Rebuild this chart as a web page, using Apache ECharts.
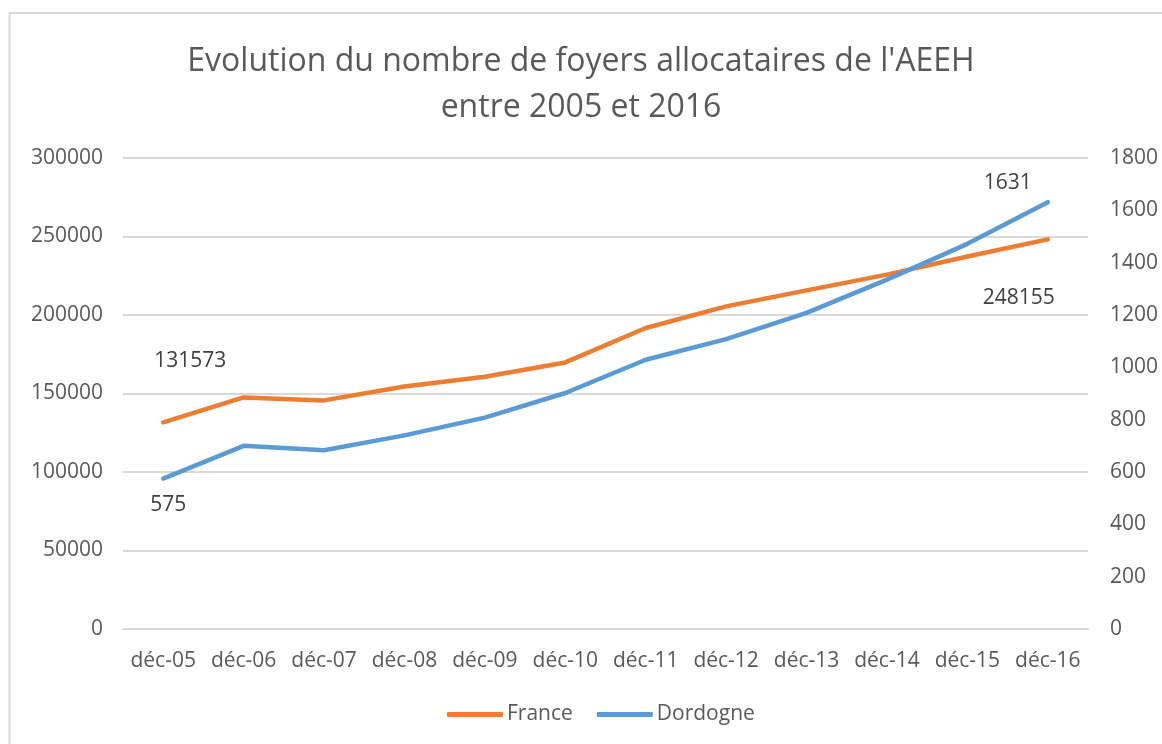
<!DOCTYPE html>
<html lang="fr">
<head>
<meta charset="UTF-8">
<title>AEEH 2005-2016</title>
<script src="https://cdn.jsdelivr.net/npm/echarts@6/dist/echarts.min.js"></script>
<style>
  html, body { margin: 0; padding: 0; background: #fff; }
  #main { width: 1162px; height: 744px; }
</style>
</head>
<body>
<div id="main"></div>
<script type="text/javascript">
    // données
    var mois = ['déc-05', 'déc-06', 'déc-07', 'déc-08', 'déc-09', 'déc-10',
                'déc-11', 'déc-12', 'déc-13', 'déc-14', 'déc-15', 'déc-16'];
    var france = [131573, 147500, 145600, 154500, 160700, 169800,
                  191700, 205500, 215700, 225700, 237300, 248155];
    var dordogne = [575, 700, 683, 740, 808, 902,
                    1029, 1108, 1208, 1335, 1472, 1631];

    var gris = '#595959';
    var police = 'Open Sans';

    var chart = echarts.init(document.getElementById('main'));

    // étiquettes seulement sur le premier et le dernier point
    function avecEtiquettes(values, first, last) {
        return values.map(function (v, i) {
            var item = { value: v };
            if (i === 0) item.label = { show: true, offset: first };
            else if (i === values.length - 1) item.label = { show: true, offset: last };
            return item;
        });
    }

    var option = {
        backgroundColor: '#fff',
        textStyle: { fontFamily: police },
        title: {
            text: "Evolution du nombre de foyers allocataires de l'AEEH\nentre 2005 et 2016",
            left: 'center',
            top: 34,
            textStyle: {
                fontFamily: police,
                fontSize: 32,
                fontWeight: 'normal',
                color: gris,
                lineHeight: 46
            }
        },
        graphic: [{
            type: 'rect',
            shape: { x: 9.5, y: 13, width: 1170, height: 760 },
            style: { fill: 'none', stroke: '#d9d9d9', lineWidth: 2 },
            silent: true
        }],
        legend: {
            bottom: 14,
            left: 442,
            icon: 'roundRect',
            itemWidth: 56,
            itemHeight: 5,
            itemGap: 24,
            textStyle: { fontFamily: police, fontSize: 21, color: gris, padding: [0, 0, 0, -1] },
            data: ['France', 'Dordogne']
        },
        grid: { left: 123, right: 74, top: 158, bottom: 115, containLabel: false },
        xAxis: {
            type: 'category',
            data: mois,
            boundaryGap: true,
            axisLine: { show: true, lineStyle: { color: '#d9d9d9', width: 2 } },
            axisTick: { show: false },
            axisLabel: { color: gris, fontSize: 21, margin: 22, interval: 0, fontFamily: police }
        },
        yAxis: [{
            type: 'value',
            min: 0,
            max: 300000,
            interval: 50000,
            axisLine: { show: false },
            axisTick: { show: false },
            axisLabel: { color: gris, fontSize: 21, margin: 20, fontFamily: police,
                         formatter: function (v) { return String(v); } },
            splitLine: { lineStyle: { color: '#d9d9d9', width: 2 } }
        }, {
            type: 'value',
            min: 0,
            max: 1800,
            interval: 200,
            position: 'right',
            axisLine: { show: false },
            axisTick: { show: false },
            axisLabel: { color: gris, fontSize: 21, margin: 22, fontFamily: police,
                         formatter: function (v) { return String(v); } },
            splitLine: { show: false }
        }],
        series: [{
            name: 'France',
            type: 'line',
            yAxisIndex: 0,
            data: avecEtiquettes(france, [27, -61], [-29, 59]),
            symbol: 'circle',
            symbolSize: 1,
            showSymbol: true,
            lineStyle: { color: '#ed7d31', width: 4.5, cap: 'round', join: 'round' },
            itemStyle: { color: '#ed7d31' },
            label: { show: false, position: 'inside', color: '#404040', fontSize: 21, fontFamily: police },
            emphasis: { disabled: true },
            animation: false
        }, {
            name: 'Dordogne',
            type: 'line',
            yAxisIndex: 1,
            data: avecEtiquettes(dordogne, [5, 26], [-40, -19]),
            symbol: 'circle',
            symbolSize: 1,
            showSymbol: true,
            lineStyle: { color: '#5b9bd5', width: 4.5, cap: 'round', join: 'round' },
            itemStyle: { color: '#5b9bd5' },
            label: { show: false, position: 'inside', color: '#404040', fontSize: 21, fontFamily: police },
            emphasis: { disabled: true },
            animation: false
        }]
    };

    chart.setOption(option);
</script>
</body>
</html>
